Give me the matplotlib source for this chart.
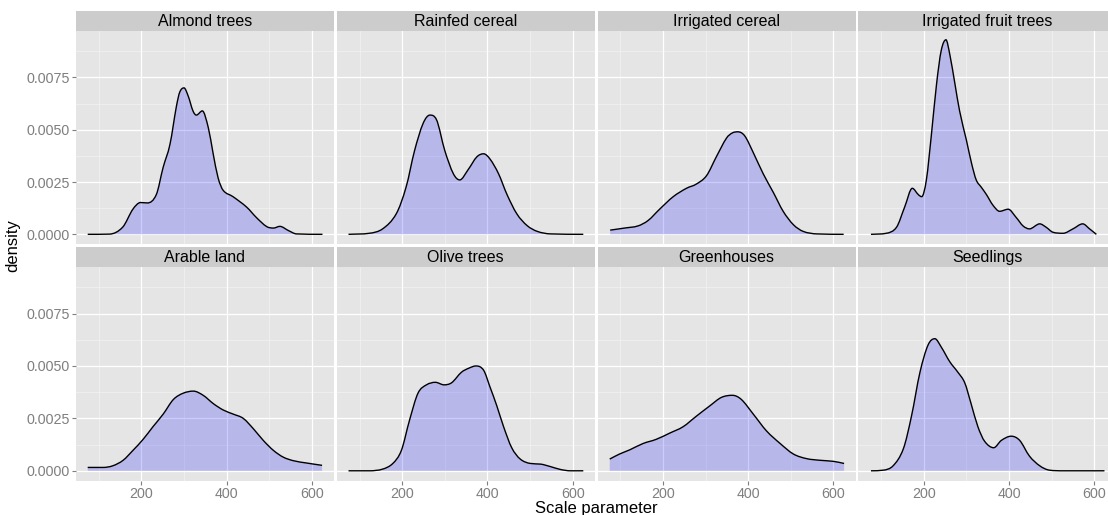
import numpy as np
import matplotlib
matplotlib.use("Agg")
import matplotlib.pyplot as plt
from matplotlib.path import Path
from matplotlib.patches import PathPatch

plt.rcParams["font.family"] = ["Liberation Sans", "DejaVu Sans"]

# ---------------- data ----------------
panel_titles = ["Almond trees", "Rainfed cereal", "Irrigated cereal", "Irrigated fruit trees",
                "Arable land", "Olive trees", "Greenhouses", "Seedlings"]

almond_x = [74, 125, 156, 180, 198, 214, 235, 251, 267, 282, 290, 300, 310, 321, 329, 343, 357, 368,
            380, 392, 415, 447, 470, 494, 510, 525, 545, 564, 625]
almond_y = [0, 0.00001, 0.00034, 0.0012, 0.00152, 0.0015, 0.0019, 0.0032, 0.0043, 0.0061, 0.0068, 0.0070,
            0.0066, 0.0059, 0.0057, 0.0059, 0.0051, 0.0039, 0.0027, 0.0021, 0.0018, 0.0013, 0.0008,
            0.00037, 0.0003, 0.00038, 0.00018, 0.00002, 0]

rainfed_x = [74, 123, 154, 186, 209, 229, 249, 265, 280, 300, 320, 335, 355, 375, 391, 406, 426, 446,
             469, 493, 517, 548, 625]
rainfed_y = [0, 0.00005, 0.00026, 0.00098, 0.00225, 0.0040, 0.0053, 0.0057, 0.0055, 0.0040, 0.0029,
             0.0026, 0.0031, 0.0037, 0.00385, 0.0036, 0.0029, 0.0019, 0.00098, 0.00042, 0.00014,
             0.00002, 0]

irrcereal_x = [76, 110, 141, 165, 192, 224, 255, 278, 302, 325, 349, 363, 376, 392, 412, 435, 459, 482,
               506, 529, 561, 624]
irrcereal_y = [0.0002, 0.0003, 0.0004, 0.00066, 0.0012, 0.0018, 0.0022, 0.0024, 0.0028, 0.0037, 0.0046,
               0.00485, 0.0049, 0.0047, 0.0039, 0.0029, 0.0020, 0.0011, 0.00046, 0.00014, 0.00002, 0]

fruit_x = [76, 112, 136, 155, 173, 187, 195, 206, 218, 230, 241, 252, 261, 273, 284, 300, 312, 323, 335,
           347, 362, 378, 398, 417, 433, 448, 472, 487, 503, 527, 550, 573, 589, 605]
fruit_y = [0, 0.00005, 0.00034, 0.0013, 0.0022, 0.0019, 0.0018, 0.0026, 0.0048, 0.0072, 0.0088, 0.0093,
           0.0086, 0.0072, 0.0059, 0.0045, 0.0034, 0.0026, 0.00225, 0.0019, 0.0014, 0.0011, 0.0012,
           0.0008, 0.0004, 0.00026, 0.0005, 0.00034, 0.0001, 0.00005, 0.00026, 0.0005, 0.00026, 0.0]

arable_x = [74, 110, 133, 157, 180, 204, 227, 251, 275, 298, 322, 345, 369, 392, 416, 439, 463, 486, 510,
            533, 557, 588, 624]
arable_y = [0.00016, 0.00016, 0.00024, 0.0005, 0.00097, 0.0015, 0.0021, 0.0027, 0.0034, 0.0037, 0.0038,
            0.0036, 0.0032, 0.0029, 0.0027, 0.0025, 0.0020, 0.00145, 0.00097, 0.00065, 0.00048,
            0.00037, 0.00026]

olive_x = [74, 123, 154, 178, 198, 217, 237, 257, 278, 298, 316, 339, 357, 373, 391, 406, 422, 438, 457,
           477, 501, 524, 548, 572, 595, 625]
olive_y = [0, 0, 0.00008, 0.00035, 0.00097, 0.0024, 0.0037, 0.0041, 0.00422, 0.0041, 0.0042, 0.0047,
           0.0049, 0.0050, 0.0048, 0.0040, 0.0031, 0.0021, 0.0011, 0.00056, 0.00035, 0.00032, 0.0002,
           0.00006, 0, 0]

green_x = [75, 98, 122, 153, 184, 216, 247, 278, 310, 337, 363, 384, 412, 443, 475, 506, 537, 569, 600, 625]
green_y = [0.00056, 0.0008, 0.001, 0.0013, 0.0015, 0.0018, 0.0021, 0.0026, 0.0031, 0.0035, 0.0036,
           0.0034, 0.0027, 0.0019, 0.0013, 0.0008, 0.00058, 0.0005, 0.00045, 0.00035]

seed_x = [76, 105, 128, 152, 171, 191, 210, 226, 241, 261, 280, 296, 311, 327, 343, 364, 382, 405, 425,
          448, 472, 495, 527, 624]
seed_y = [0, 0.00003, 0.00024, 0.00105, 0.0026, 0.0047, 0.0060, 0.0063, 0.0059, 0.0052, 0.0047, 0.0042,
          0.0032, 0.0021, 0.0014, 0.0011, 0.00145, 0.00165, 0.00145, 0.0007, 0.00024, 0.00003, 0, 0]

series_x = [almond_x, rainfed_x, irrcereal_x, fruit_x, arable_x, olive_x, green_x, seed_x]
series_y = [almond_y, rainfed_y, irrcereal_y, fruit_y, arable_y, olive_y, green_y, seed_y]

x_ticks = [200, 400, 600]
x_minor = [100, 300, 500]
y_ticks = [0.0, 0.0025, 0.0050, 0.0075]
y_tick_labels = ["0.0000", "0.0025", "0.0050", "0.0075"]
y_minor = [0.00125, 0.00375, 0.00625, 0.00875]
x_title = "Scale parameter"
y_title = "density"


# ---------------- helpers ----------------
def smooth_bezier(x, y):
    """Smooth Bezier path through the read points (centred tangents, overshoot-limited)."""
    x = np.asarray(x, float)
    y = np.asarray(y, float)
    n = len(x)
    h = np.diff(x)
    d = np.diff(y) / h
    m = np.zeros(n)
    m[0], m[-1] = d[0], d[-1]
    for k in range(1, n - 1):
        if d[k - 1] * d[k] <= 0:
            m[k] = 0.0
        else:
            m[k] = (y[k + 1] - y[k - 1]) / (x[k + 1] - x[k - 1])
    for k in range(n - 1):
        if d[k] == 0:
            m[k] = m[k + 1] = 0.0
            continue
        a = m[k] / d[k]
        b = m[k + 1] / d[k]
        s = a * a + b * b
        if s > 9:
            t = 3 / np.sqrt(s)
            m[k] = t * a * d[k]
            m[k + 1] = t * b * d[k]
    verts = [(x[0], y[0])]
    codes = [Path.MOVETO]
    for i in range(n - 1):
        verts += [(x[i] + h[i] / 3, y[i] + m[i] * h[i] / 3),
                  (x[i + 1] - h[i] / 3, y[i + 1] - m[i + 1] * h[i] / 3),
                  (x[i + 1], y[i + 1])]
        codes += [Path.CURVE4] * 3
    return verts, codes


# ---------------- layout ----------------
W, H = 1108, 515
fig = plt.figure(figsize=(W / 100, H / 100), dpi=100)
fig.patch.set_facecolor("white")

col_left = [76, 336.8, 597.6, 858.4]
panel_w = 258
row_panel = [(31, 244), (267, 480.5)]
row_strip = [(11, 31), (247.5, 267)]

xlim = (46.5, 652)
ylim = (-0.000463, 0.00972)

grey_tick = "#7F7F7F"

for idx in range(8):
    r, c = divmod(idx, 4)
    left = col_left[c]
    top, bot = row_panel[r]
    ax = fig.add_axes([left / W, 1 - bot / H, panel_w / W, (bot - top) / H])
    ax.set_facecolor("#E5E5E5")
    ax.set_xlim(*xlim)
    ax.set_ylim(*ylim)
    for s in ax.spines.values():
        s.set_visible(False)
    for v in x_minor:
        ax.axvline(v, color="#F2F2F2", lw=0.5, zorder=0.5)
    for v in y_minor:
        ax.axhline(v, color="#F2F2F2", lw=0.5, zorder=0.5)
    for v in x_ticks:
        ax.axvline(v, color="white", lw=0.9, zorder=0.6)
    for v in y_ticks:
        ax.axhline(v, color="white", lw=0.9, zorder=0.6)

    verts, codes = smooth_bezier(series_x[idx], series_y[idx])
    fverts = verts + [(series_x[idx][-1], 0.0), (series_x[idx][0], 0.0), verts[0]]
    fcodes = codes + [Path.LINETO, Path.LINETO, Path.CLOSEPOLY]
    ax.add_patch(PathPatch(Path(fverts, fcodes), facecolor="blue", alpha=0.2,
                           edgecolor="none", zorder=1))
    ax.add_patch(PathPatch(Path(verts, codes), facecolor="none", edgecolor="black",
                           lw=1.0, zorder=2, capstyle="butt"))

    ax.set_xticks(x_ticks)
    ax.set_yticks(y_ticks)
    ax.tick_params(axis="both", length=3, width=0.8, color=grey_tick,
                   labelcolor=grey_tick, labelsize=10.3, pad=1.5)
    if c == 0:
        ax.set_yticklabels(y_tick_labels)
    else:
        ax.tick_params(axis="y", length=0, labelleft=False)
    if r == 1:
        ax.set_xticklabels([str(v) for v in x_ticks])
    else:
        ax.tick_params(axis="x", length=0, labelbottom=False)

    # strip
    st, sb = row_strip[r]
    sax = fig.add_axes([left / W, 1 - sb / H, panel_w / W, (sb - st) / H])
    sax.set_facecolor("#CCCCCC")
    sax.set_xticks([])
    sax.set_yticks([])
    for s in sax.spines.values():
        s.set_visible(False)
    sax.text(0.5, 0.47, panel_titles[idx], ha="center", va="center",
             fontsize=11.5, color="black", transform=sax.transAxes)

fig.text(596 / W, 1 - 509 / H, x_title, ha="center", va="center", fontsize=12, color="black")
fig.text(13 / W, 1 - 246 / H, y_title, ha="center", va="center", rotation=90,
         fontsize=12, color="black")

fig.savefig("out.png", dpi=100)
